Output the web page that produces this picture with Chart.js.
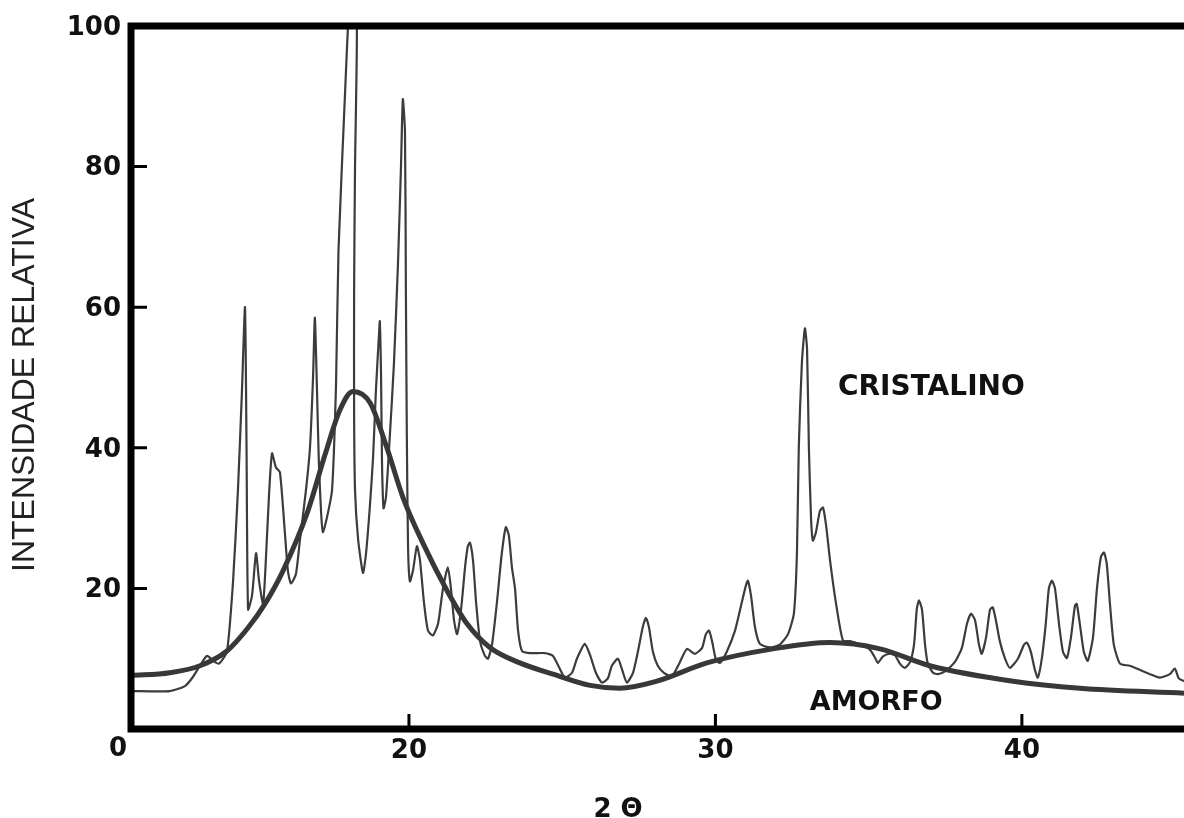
<!DOCTYPE html>
<html>
<head>
<meta charset="utf-8">
<title>Difratograma</title>
<script src="https://cdn.jsdelivr.net/npm/chart.js@4.4.1/dist/chart.umd.min.js"></script>
<style>
  html, body { margin: 0; padding: 0; background: #fff; }
  #wrap { width: 1184px; height: 818px; }
</style>
</head>
<body>
<div id="wrap"><canvas id="xrd" width="1184" height="818"></canvas></div>
<script>
// ===== DATA =====
// crystalline trace: 2 theta / relative intensity
const crysTheta = [
  10.93, 12.20, 12.69, 12.95, 13.18, 13.41, 13.61, 13.80, 14.06, 14.26,
  14.42, 14.55, 14.65, 14.70, 14.75, 14.88, 15.01, 15.11, 15.24, 15.33,
  15.43, 15.53, 15.66, 15.79, 15.95, 16.05, 16.15, 16.31, 16.44, 16.64,
  16.77, 16.87, 16.93, 17.00, 17.06, 17.13, 17.19, 17.32, 17.49, 17.62,
  17.70, 17.91, 18.01, 18.16, 18.30, 18.24, 18.21, 18.21, 18.24, 18.34,
  18.50, 18.60, 18.73, 18.83, 18.92, 19.02, 19.05, 19.09, 19.12, 19.17,
  19.25, 19.38, 19.51, 19.64, 19.74, 19.80, 19.87, 19.90, 19.93, 19.97,
  20.03, 20.13, 20.26, 20.36, 20.49, 20.62, 20.78, 20.95, 21.11, 21.27,
  21.37, 21.47, 21.57, 21.70, 21.83, 21.92, 21.99, 22.09, 22.19, 22.32,
  22.48, 22.58, 22.71, 22.87, 23.03, 23.16, 23.26, 23.36, 23.46, 23.56,
  23.69, 23.95, 24.44, 24.70, 24.93, 25.09, 25.32, 25.48, 25.74, 25.91,
  26.10, 26.30, 26.49, 26.62, 26.82, 26.95, 27.11, 27.31, 27.47, 27.63,
  27.73, 27.83, 27.96, 28.12, 28.32, 28.58, 28.84, 29.07, 29.33, 29.56,
  29.69, 29.79, 29.89, 30.02, 30.15, 30.37, 30.64, 30.86, 31.00, 31.06,
  31.16, 31.29, 31.45, 31.78, 32.10, 32.37, 32.56, 32.66, 32.72, 32.82,
  32.92, 32.99, 33.05, 33.12, 33.18, 33.28, 33.41, 33.51, 33.61, 33.74,
  33.93, 34.16, 34.39, 34.71, 35.04, 35.20, 35.30, 35.46, 35.69, 35.86,
  36.02, 36.18, 36.35, 36.48, 36.57, 36.64, 36.74, 36.84, 36.93, 37.10,
  37.26, 37.49, 37.81, 38.04, 38.21, 38.34, 38.47, 38.60, 38.69, 38.83,
  38.96, 39.05, 39.15, 39.28, 39.45, 39.61, 39.87, 40.07, 40.16, 40.29,
  40.42, 40.52, 40.65, 40.78, 40.88, 40.98, 41.08, 41.21, 41.34, 41.47,
  41.60, 41.73, 41.79, 41.89, 42.02, 42.15, 42.32, 42.45, 42.58, 42.68,
  42.77, 42.87, 43.00, 43.20, 43.52, 43.75, 44.18, 44.50, 44.83, 44.99,
  45.12, 45.29
];
const crysInt = [
  5.4, 5.4, 6.1, 7.4, 9.0, 10.4, 9.7, 9.3, 11.0, 21,
  34, 48, 60, 40, 17, 19, 25, 21, 17.8, 24,
  33, 39.2, 37.2, 36.5, 28, 22.5, 20.7, 22, 26.8, 34,
  40, 50, 58.5, 48, 38, 31, 28, 30, 34, 49,
  68, 90, 100, 112, 100, 80, 62, 45, 34, 27,
  22.2, 25, 32, 38.7, 48, 56, 58, 50, 38, 31.4,
  33, 42, 52, 66, 80, 89.6, 85, 62, 42, 26,
  21, 22.5, 26, 24, 18, 14, 13.3, 15, 20, 23,
  20, 15.5, 13.5, 17, 23, 26, 26.5, 24, 18, 12.5,
  10.4, 10, 12, 18, 25, 28.7, 27.5, 23, 20, 14,
  11.1, 10.8, 10.8, 10.4, 8.5, 7.3, 8, 10, 12.1, 10.5,
  8, 6.6, 7.2, 9, 10, 8.5, 6.6, 8, 11, 14.5,
  15.8, 14.5, 11, 9, 8, 7.5, 9.5, 11.4, 10.7, 11.5,
  13.5, 14, 12.5, 9.8, 9.4, 11, 14, 18, 20.5, 21.1,
  19, 14.5, 12.1, 11.6, 12, 13.5, 16.4, 25, 40, 52,
  57, 54, 40, 30, 26.8, 28, 31, 31.5, 29, 24,
  18, 12.6, 12.5, 12, 11.3, 10.2, 9.4, 10.3, 10.7, 10.5,
  9.3, 8.7, 9.5, 12, 17, 18.3, 17, 12, 9.3, 8,
  7.8, 8.2, 9.5, 11.5, 15, 16.4, 15.5, 12, 10.7, 13,
  17, 17.3, 15.5, 12.5, 10, 8.7, 10, 12, 12.3, 11,
  8.5, 7.3, 10, 15, 20, 21.1, 20, 15, 11, 10.1,
  13, 17.5, 17.8, 15, 11, 9.7, 13, 20, 24.5, 25.1,
  23.5, 18, 12, 9.3, 9, 8.6, 7.8, 7.3, 7.8, 8.6,
  7.2, 6.8
];

// amorphous halo
const amorTheta = [
  10.93, 12.20, 13.18, 14.06, 14.75, 15.30, 15.89, 16.70, 17.26, 17.75,
  18.17, 18.73, 19.28, 19.80, 20.46, 21.24, 21.89, 22.64, 23.62, 24.70,
  25.91, 26.88, 28.09, 29.72, 31.88, 33.74, 35.37, 37.00, 39.71, 41.89,
  45.29
];
const amorInt = [
  7.6, 8.0, 9.0, 11.1, 14.4, 17.8, 22.5, 31.0, 39.0, 45.4,
  48.0, 46.4, 40.0, 33.0, 26.4, 19.7, 15.0, 11.6, 9.4, 7.8,
  6.2, 5.8, 6.8, 9.4, 11.4, 12.3, 11.4, 9.0, 6.8, 5.8,
  5.1
];

// axes
const xMin = 10.93;
const xMax = 45.29;
const xTicks = [20, 30, 40];
const yTicks = [20, 40, 60, 80, 100];
const originLabel = "0";
const xTitle = "2 \u0398";
const yTitle = "INTENSIDADE RELATIVA";

// curve labels
const curveLabels = [
  { text: "CRISTALINO", x: 34.0, y: 47.5, size: 28 },
  { text: "AMORFO", x: 33.08, y: 2.7, size: 27 }
];

function toPoints(xs, ys) {
  return xs.map((v, i) => ({ x: v, y: ys[i] }));
}

// ===== FRAME, TICKS AND TEXT =====
const framePlugin = {
  id: "frame",
  afterDatasetsDraw(chart) {
    const { ctx, chartArea: a, scales: { x, y } } = chart;
    ctx.save();
    ctx.strokeStyle = "#000";
    ctx.lineJoin = "miter";
    ctx.lineCap = "butt";

    // axis box (left, top, bottom)
    ctx.lineWidth = 7;
    ctx.beginPath();
    ctx.moveTo(a.right, a.top);
    ctx.lineTo(a.left, a.top);
    ctx.lineTo(a.left, a.bottom);
    ctx.lineTo(a.right, a.bottom);
    ctx.stroke();

    // inward tick marks
    ctx.lineWidth = 3;
    ctx.beginPath();
    xTicks.forEach(v => {
      const px = x.getPixelForValue(v);
      ctx.moveTo(px, a.bottom);
      ctx.lineTo(px, a.bottom - 15);
    });
    yTicks.forEach(v => {
      if (v >= y.max) return;
      const py = y.getPixelForValue(v);
      ctx.moveTo(a.left, py);
      ctx.lineTo(a.left + 16, py);
    });
    ctx.stroke();

    // tick labels
    ctx.fillStyle = "#111";
    ctx.font = "bold 26px 'DejaVu Sans'";
    ctx.textAlign = "right";
    ctx.textBaseline = "middle";
    yTicks.forEach(v => {
      ctx.fillText(String(v), a.left - 10, y.getPixelForValue(v) + 2);
    });
    ctx.textAlign = "center";
    ctx.textBaseline = "top";
    xTicks.forEach(v => {
      ctx.fillText(String(v), x.getPixelForValue(v), a.bottom + 9);
    });
    ctx.fillText(originLabel, a.left - 13, a.bottom + 7);

    // axis titles
    ctx.fillText(xTitle, a.left + 487, a.bottom + 68);
    ctx.save();
    ctx.translate(25, 385);
    ctx.rotate(-Math.PI / 2);
    ctx.font = "32px 'Liberation Sans'";
    ctx.fillStyle = "#222";
    ctx.textBaseline = "middle";
    ctx.fillText(yTitle, 0, 0);
    ctx.restore();

    // curve names
    ctx.textAlign = "left";
    ctx.textBaseline = "alphabetic";
    curveLabels.forEach(l => {
      ctx.font = "bold " + l.size + "px 'DejaVu Sans'";
      ctx.fillText(l.text, x.getPixelForValue(l.x), y.getPixelForValue(l.y));
    });
    ctx.restore();
  }
};

const chart = new Chart(document.getElementById("xrd"), {
  type: "line",
  data: {
    datasets: [
      {
        label: "Amorfo",
        data: toPoints(amorTheta, amorInt),
        borderColor: "#383838",
        borderWidth: 5,
        pointRadius: 0,
        cubicInterpolationMode: "monotone",
        clip: 0
      },
      {
        label: "Cristalino",
        data: toPoints(crysTheta, crysInt),
        borderColor: "#3c3c3c",
        borderWidth: 2.2,
        pointRadius: 0,
        tension: 0.2,
        clip: 0
      }
    ]
  },
  options: {
    responsive: false,
    animation: false,
    devicePixelRatio: 1,
    layout: { padding: { left: 131, right: 0, top: 26, bottom: 89 } },
    plugins: { legend: { display: false }, tooltip: { enabled: false } },
    scales: {
      x: { type: "linear", min: xMin, max: xMax, display: false },
      y: { type: "linear", min: 0, max: 100, display: false }
    }
  },
  plugins: [framePlugin]
});
</script>
</body>
</html>
